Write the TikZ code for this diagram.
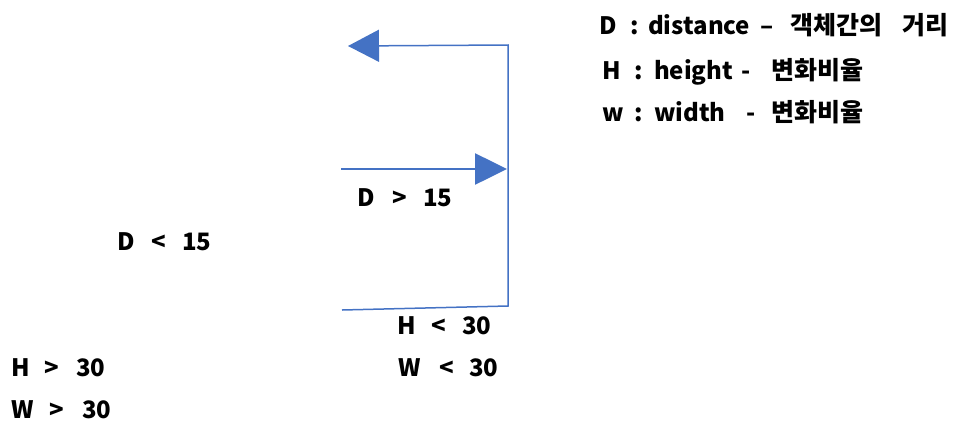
\documentclass[tikz,border=0pt]{standalone}
\usepackage{fontspec}
\setmainfont{Noto Sans CJK KR}
\usetikzlibrary{arrows.meta}
\definecolor{lineblue}{HTML}{4472C4}
\newcommand\pc[2]{\makebox[#1pt][l]{#2}}
\newcommand\cnd[5]{\pc{#1}{#2}\pc{#3}{#4}#5}
\newcommand\hg[1]{{\fontsize{25}{27}\selectfont #1}}
\tikzset{
  lbl/.style={anchor=base west, inner sep=0pt, font=\fontsize{24}{27}\selectfont\bfseries, text=black},
  thinline/.style={draw=lineblue, line width=1.5pt},
  thickline/.style={draw=lineblue, line width=2.6pt},
}
\begin{document}
\begin{tikzpicture}[x=1pt,y=-1pt]
\useasboundingbox (0,0) rectangle (971,421);
% connectors
\coordinate (bl) at (342,310);
\coordinate (br) at (508,306);
\coordinate (tr) at (508,45);
\coordinate (tl) at (348,46);
\coordinate (ml) at (341,169);
\coordinate (mr) at (507,169);
\draw[thinline, -{Triangle[length=31pt,width=32pt]}] (bl) -- (br) -- (tr) -- (tl);
\draw[thickline, -{Triangle[length=32pt,width=31pt]}] (ml) -- (mr);
% legend
\node[lbl] (legD) at (599,34) {\pc{31}{D}\pc{18}{:}\pc{112}{distance}\pc{30}{–}\pc{112}{\hg{객체간의}}\hg{거리}};
\node[lbl] (legH) at (602,79) {\pc{32}{H}\pc{20}{:}\pc{87}{height}\pc{30}{-}\hg{변화비율}};
\node[lbl] (legW) at (602,121) {\pc{32}{w}\pc{20}{:}\pc{92}{width}\pc{25}{-}\hg{변화비율}};
% conditions
\node[lbl] (dgt) at (357,206) {\cnd{35}{D}{31}{>}{15}};
\node[lbl] (dlt) at (117,250) {\cnd{34}{D}{31}{<}{15}};
\node[lbl] (hlt) at (397,334) {\cnd{34}{H}{31}{<}{30}};
\node[lbl] (wlt) at (398,376) {\cnd{41}{W}{30}{<}{30}};
\node[lbl] (hgt) at (11,376) {\cnd{33}{H}{32}{>}{30}};
\node[lbl] (wgt) at (11,418) {\cnd{38}{W}{33}{>}{30}};
\end{tikzpicture}
\end{document}
